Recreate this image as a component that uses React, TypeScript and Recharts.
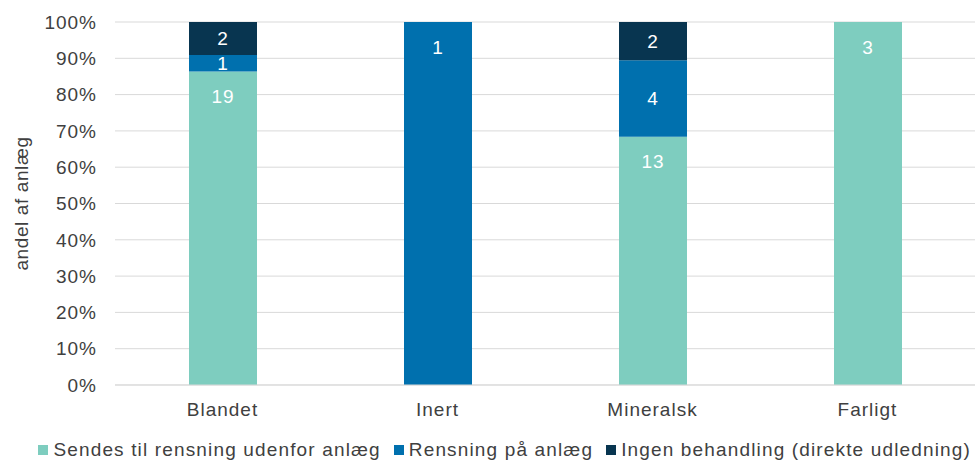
import React from 'react';
import { BarChart, Bar, XAxis, YAxis, CartesianGrid, Legend, LabelList } from 'recharts';

const categories = ['Blandet', 'Inert', 'Mineralsk', 'Farligt'];
const sendes = [19, 0, 13, 3];
const rensning = [1, 1, 4, 0];
const ingen = [2, 0, 2, 0];
const yTicks = [0, 0.1, 0.2, 0.3, 0.4, 0.5, 0.6, 0.7, 0.8, 0.9, 1];

const seriesNames = ['Sendes til rensning udenfor anlæg', 'Rensning på anlæg', 'Ingen behandling (direkte udledning)'];
const seriesColors = ['#7ecdbf', '#0070ae', '#083550'];

const data = categories.map((name, i) => ({
  name,
  sendes: sendes[i],
  rensning: rensning[i],
  ingen: ingen[i],
}));

const FONT = '"Liberation Sans", Arial, sans-serif';
const TEXT = '#404040';
const textStyle = { fill: TEXT, fontSize: 19, fontFamily: FONT, letterSpacing: 1 };

// white count label; small segments get it centred, tall ones near the top
const renderLabel = (props: any) => {
  const { x, y, width, height, value } = props;
  if (!value) return null;
  const cy = height < 100 ? y + height / 2 : y + 25;
  return (
    <text
      x={x + width / 2}
      y={cy}
      fill="#ffffff"
      fontSize={19}
      fontFamily={FONT}
      letterSpacing={1}
      textAnchor="middle"
      dominantBaseline="central"
    >
      {value}
    </text>
  );
};

const renderLegend = () => (
  <div style={{ display: 'flex', justifyContent: 'flex-end', alignItems: 'center', height: 24, paddingRight: 4 }}>
    {seriesNames.map((n, i) => (
      <div key={n} style={{ display: 'flex', alignItems: 'center', marginLeft: i === 0 ? 0 : 13 }}>
        <span style={{ width: 10, height: 10, background: seriesColors[i], display: 'inline-block', marginRight: 5 }} />
        <span style={{ color: TEXT, fontSize: 19, fontFamily: FONT, letterSpacing: 1.15, whiteSpace: 'nowrap' }}>{n}</span>
      </div>
    ))}
  </div>
);

export default function App() {
  return (
    <div style={{ position: 'absolute', left: 0, top: 0, fontFamily: FONT }}>
      <BarChart
        width={978}
        height={462}
        data={data}
        stackOffset="expand"
        margin={{ top: 22, right: 3, left: 0, bottom: 0 }}
      >
        <CartesianGrid vertical={false} stroke="#d9d9d9" />
        <XAxis
          dataKey="name"
          axisLine={{ stroke: '#d9d9d9' }}
          tickLine={false}
          tickSize={6}
          tickMargin={12}
          height={53}
          tick={textStyle}
        />
        <YAxis
          width={115}
          domain={[0, 1]}
          ticks={yTicks}
          axisLine={false}
          tickLine={false}
          tickSize={10}
          tickMargin={8}
          tickFormatter={(v: number) => `${Math.round(v * 100)}%`}
          tick={textStyle}
          label={{
            value: 'andel af anlæg',
            angle: -90,
            position: 'insideLeft',
            offset: 21,
            style: { ...textStyle, letterSpacing: 0.6, textAnchor: 'middle' },
          }}
        />
        <Legend verticalAlign="bottom" height={24} content={renderLegend} />
        <Bar dataKey="sendes" name={seriesNames[0]} stackId="a" fill={seriesColors[0]} barSize={68} isAnimationActive={false}>
          <LabelList dataKey="sendes" content={renderLabel} />
        </Bar>
        <Bar dataKey="rensning" name={seriesNames[1]} stackId="a" fill={seriesColors[1]} barSize={68} isAnimationActive={false}>
          <LabelList dataKey="rensning" content={renderLabel} />
        </Bar>
        <Bar dataKey="ingen" name={seriesNames[2]} stackId="a" fill={seriesColors[2]} barSize={68} isAnimationActive={false}>
          <LabelList dataKey="ingen" content={renderLabel} />
        </Bar>
      </BarChart>
    </div>
  );
}
